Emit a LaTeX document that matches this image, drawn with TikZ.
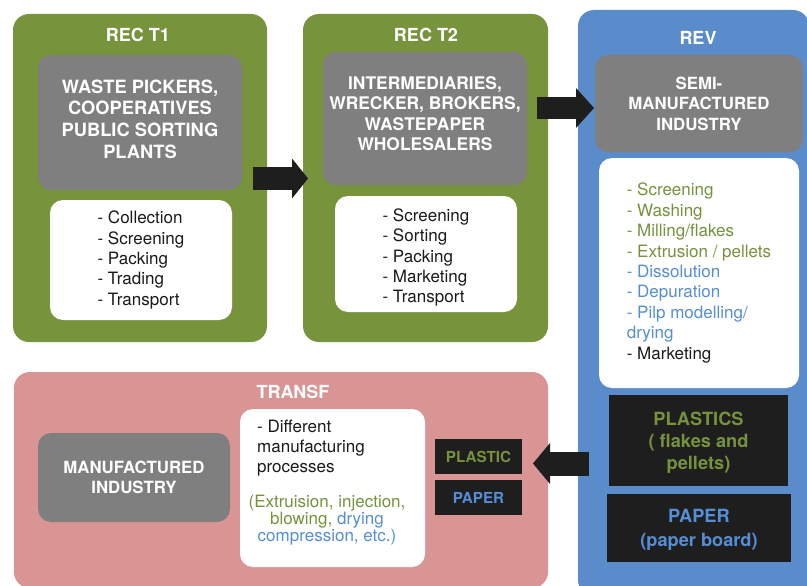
\documentclass[tikz,border=0pt]{standalone}
\usepackage{fontspec}
\setmainfont{TeX Gyre Heros}
\usetikzlibrary{arrows.meta}
\definecolor{recgreen}{HTML}{77933C}
\definecolor{revblue}{HTML}{5A8BCB}
\definecolor{transpink}{HTML}{D99594}
\definecolor{boxgray}{HTML}{7F7F7F}
\definecolor{darkbox}{HTML}{1E1E1E}
\definecolor{txtgreen}{HTML}{76923C}
\definecolor{txtblue}{HTML}{558ED5}
\definecolor{txtdark}{HTML}{1A1A1A}
\begin{document}
\begin{tikzpicture}[x=1pt,y=-1pt,
  stage/.style={rectangle, rounded corners=16pt, inner sep=0pt},
  graybox/.style={rectangle, rounded corners=13pt, fill=boxgray, text=white, inner sep=0pt, align=center},
  whitebox/.style={rectangle, rounded corners=13pt, fill=white, text=txtdark, inner sep=0pt, align=left, font=\fontsize{17}{20.4}\selectfont},
  blackbox/.style={rectangle, fill=darkbox, inner sep=0pt, align=center},
  stagetitle/.style={text=white, inner sep=0pt, font=\fontsize{18}{21}\selectfont\bfseries},
  plaintext/.style={inner sep=0pt, text=txtdark},
  blockarrow/.style={draw=darkbox, line width=#1},
]
\useasboundingbox[fill=white] (0,0) rectangle (807,586);

% stages
\node[stage, fill=recgreen, minimum width=254pt, minimum height=328pt] (t1) at (140,178) {};
\node[stage, fill=recgreen, minimum width=245pt, minimum height=328pt] (t2) at (425.5,178) {};
\node[stage, fill=revblue, minimum width=231pt, minimum height=586pt] (rev) at (693.5,303) {};
\node[stage, fill=transpink, minimum width=534pt, minimum height=216pt] (tr) at (281,480) {};

% titles
\node[stagetitle] (t1title) at (138,35) {REC T1};
\node[stagetitle] (t2title) at (426,35) {REC T2};
\node[stagetitle] (revtitle) at (698,38) {REV};
\node[stagetitle] (trtitle) at (293,392) {TRANSF};

% REC T1
\node[graybox, minimum width=204pt, minimum height=135pt, font=\fontsize{18.3}{21.7}\selectfont\bfseries] (t1g) at (140,122.5)
  {WASTE PICKERS,\\COOPERATIVES\\PUBLIC SORTING\\PLANTS\rule[-7pt]{0pt}{7pt}};
\node[whitebox, minimum width=182pt, minimum height=120pt] (t1w) at (141,260)
  {- Collection\\- Screening\\- Packing\\- Trading\\- Transport};

% REC T2
\node[graybox, minimum width=204pt, minimum height=133pt, font=\fontsize{17.4}{20.3}\selectfont\bfseries] (t2g) at (425,118.5)
  {INTERMEDIARIES,\\WRECKER, BROKERS,\\WASTEPAPER\\WHOLESALERS\rule[-10pt]{0pt}{10pt}};
\node[whitebox, minimum width=182pt, minimum height=116pt] (t2w) at (426,254)
  {\rule{0pt}{20pt}- Screening\\- Sorting\\- Packing\\- Marketing\\- Transport};

% REV
\node[graybox, minimum width=208pt, minimum height=97pt, font=\fontsize{16.8}{20.5}\selectfont\bfseries] (revg) at (699,103.5)
  {SEMI-\\MANUFACTURED\\INDUSTRY};
\node[whitebox, minimum width=200pt, minimum height=230pt] (revw) at (699,273)
  {\color{txtgreen}- Screening\\\color{txtgreen}- Washing\\\color{txtgreen}- Milling/flakes\\\color{txtgreen}- Extrusion / pellets\\\color{txtblue}- Dissolution\\\color{txtblue}- Depuration\\\color{txtblue}- Pilp modelling/\\\color{txtblue}drying\\\color{txtdark}- Marketing};
\node[blackbox, text=txtgreen, minimum width=179pt, minimum height=91pt, font=\fontsize{18.2}{22}\selectfont\bfseries] (plas) at (698.5,440.5)
  {\rule{0pt}{17pt}PLASTICS\\( flakes and\\pellets)};
\node[blackbox, text=txtblue, minimum width=184pt, minimum height=68pt, font=\fontsize{18.2}{24}\selectfont\bfseries] (pap) at (699,528)
  {\rule{0pt}{16pt}PAPER\\(paper board)};

% TRANSF
\node[graybox, minimum width=192pt, minimum height=89pt, font=\fontsize{16.8}{20}\selectfont\bfseries] (trg) at (134,477.5)
  {MANUFACTURED\\INDUSTRY};
\node[whitebox, minimum width=185pt, minimum height=158pt] (trw) at (332.5,488) {};
\node[plaintext, anchor=west, align=left, font=\fontsize{17}{20}\selectfont] (trwa) at (257,448.6)
  {- Different\\manufacturing\\processes};
\node[plaintext, align=center, font=\fontsize{17}{16.7}\selectfont] (trwb) at (327,520)
  {\color{txtgreen}(Extruision, injection,\\\color{txtgreen}blowing, \color{txtblue}drying\\\color{txtblue}compression, etc.)};
\node[blackbox, text=txtgreen, minimum width=87pt, minimum height=35pt, font=\fontsize{15.2}{18}\selectfont\bfseries] (pl2) at (478.5,456.5) {PLASTIC};
\node[blackbox, text=txtblue, minimum width=87pt, minimum height=35pt, font=\fontsize{15.2}{18}\selectfont\bfseries] (pa2) at (478.5,497.5) {PAPER};

% arrows
\coordinate (a1s) at (253,178.5);
\coordinate (a1e) at (308,178.5);
\coordinate (a2s) at (537,108);
\coordinate (a2e) at (594,108);
\coordinate (a3s) at (589,463.5);
\coordinate (a3e) at (533,463.5);
\draw[blockarrow=23pt, -{Triangle[length=16pt 0 0, width=40pt 0 0, line width=0pt 0 0, fill=darkbox]}] (a1s) -- (a1e);
\draw[blockarrow=22pt, -{Triangle[length=18pt 0 0, width=40pt 0 0, line width=0pt 0 0, fill=darkbox]}] (a2s) -- (a2e);
\draw[blockarrow=24pt, -{Triangle[length=17pt 0 0, width=41pt 0 0, line width=0pt 0 0, fill=darkbox]}] (a3s) -- (a3e);
\end{tikzpicture}
\end{document}
